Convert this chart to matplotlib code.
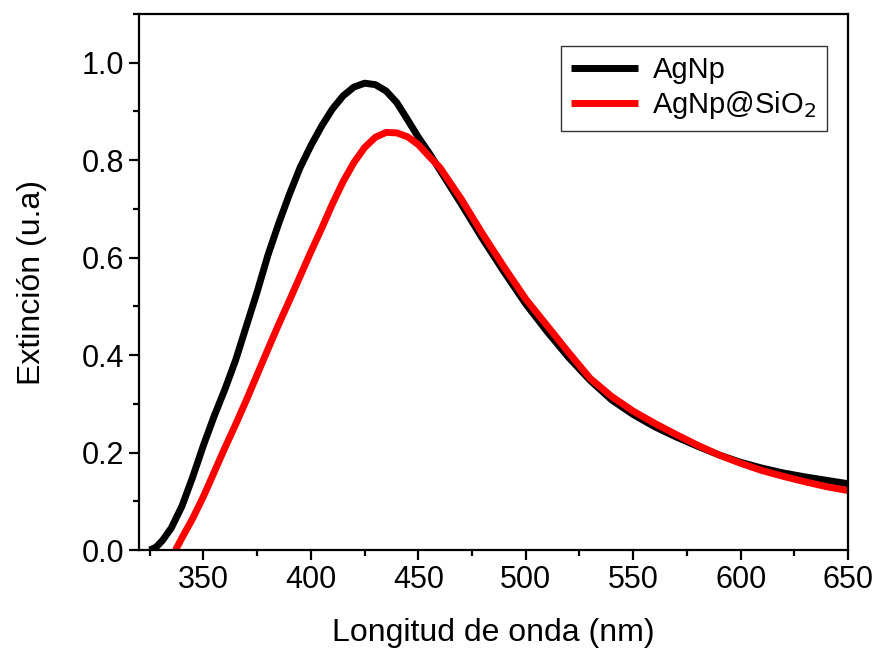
import matplotlib
matplotlib.use('Agg')
import matplotlib.pyplot as plt
from matplotlib.ticker import MultipleLocator

plt.rcParams['font.family'] = ['Liberation Sans', 'DejaVu Sans']

# AgNp
wl_ag = [325, 328, 331, 335, 340, 345, 350, 355, 360, 365, 370, 375, 380, 385,
         390, 395, 400, 405, 410, 415, 420, 425, 430, 435, 440, 445, 450, 455,
         460, 470, 480, 490, 500, 510, 520, 530, 540, 550, 560, 570, 580, 590,
         600, 610, 620, 630, 640, 650]
ext_ag = [0.00, 0.006, 0.02, 0.045, 0.09, 0.15, 0.215, 0.275, 0.33, 0.39, 0.46,
          0.53, 0.605, 0.67, 0.73, 0.785, 0.83, 0.87, 0.905, 0.932, 0.95,
          0.958, 0.955, 0.942, 0.918, 0.883, 0.847, 0.815, 0.78, 0.71, 0.638,
          0.57, 0.505, 0.448, 0.395, 0.348, 0.308, 0.278, 0.253, 0.232, 0.213,
          0.195, 0.18, 0.168, 0.158, 0.15, 0.143, 0.136]

# AgNp@SiO2
wl_si = [337, 340, 345, 350, 355, 360, 365, 370, 375, 380, 385, 390, 395, 400,
         405, 410, 415, 420, 425, 430, 435, 440, 445, 450, 455, 460, 470, 480,
         490, 500, 510, 520, 530, 540, 550, 560, 570, 580, 590, 600, 610, 620,
         630, 640, 650]
ext_si = [0.00, 0.025, 0.065, 0.11, 0.16, 0.21, 0.258, 0.308, 0.36, 0.412,
          0.463, 0.512, 0.562, 0.612, 0.66, 0.71, 0.756, 0.795, 0.826, 0.847,
          0.857, 0.856, 0.848, 0.832, 0.808, 0.785, 0.72, 0.648, 0.58, 0.515,
          0.46, 0.405, 0.352, 0.315, 0.285, 0.26, 0.237, 0.215, 0.195, 0.178,
          0.163, 0.151, 0.14, 0.13, 0.122]

fig = plt.figure(figsize=(8.77, 6.54), dpi=100)
ax = fig.add_axes([0.1585, 0.159, 0.8085, 0.8196])

ax.plot(wl_ag, ext_ag, color='black', lw=5, label='AgNp',
        solid_joinstyle='round', solid_capstyle='butt')
ax.plot(wl_si, ext_si, color='red', lw=5, label='AgNp@SiO$_2$',
        solid_joinstyle='round', solid_capstyle='butt')

ax.set_xlim(320, 650)
ax.set_ylim(0, 1.1)
ax.xaxis.set_major_locator(MultipleLocator(50))
ax.xaxis.set_minor_locator(MultipleLocator(25))
ax.yaxis.set_major_locator(MultipleLocator(0.2))
ax.yaxis.set_minor_locator(MultipleLocator(0.1))
ax.yaxis.set_major_formatter(plt.FormatStrFormatter('%.1f'))

for s in ax.spines.values():
    s.set_linewidth(1.6)
ax.tick_params(which='major', direction='out', length=7, width=1.6, labelsize=22)
ax.tick_params(which='minor', direction='out', length=4, width=1.6)
ax.tick_params(top=False, right=False, which='both')

ax.set_xlabel('Longitud de onda (nm)', fontsize=23, labelpad=17)
ax.set_ylabel('Extinción (u.a)', fontsize=23, labelpad=25)

leg = ax.legend(loc='upper right', bbox_to_anchor=(0.97, 0.94), borderaxespad=0,
                fontsize=21, frameon=True, fancybox=False, edgecolor='black',
                handlelength=2.3, handletextpad=0.5, labelspacing=0.15,
                borderpad=0.35)
leg.get_frame().set_linewidth(1.0)

fig.savefig('out.png', dpi=100)
